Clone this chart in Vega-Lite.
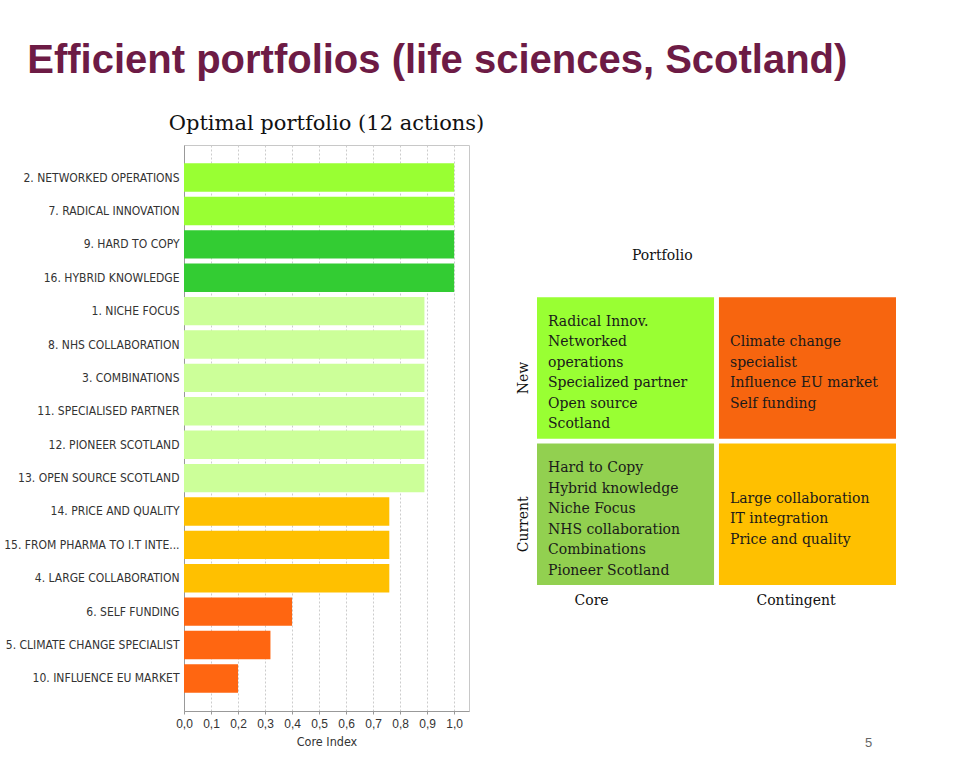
{
  "$schema": "https://vega.github.io/schema/vega-lite/v6.json",
  "background": "white",
  "padding": {"left": 3, "top": 40, "right": 5, "bottom": 5},
  "title": {
    "text": "Efficient portfolios (life sciences, Scotland)",
    "anchor": "start",
    "frame": "bounds",
    "font": "Liberation Sans",
    "fontSize": 40,
    "fontWeight": "bold",
    "color": "#6d1b45",
    "dx": 24,
    "offset": 0,
    "baseline": "alphabetic"
  },
  "spacing": 31,
  "resolve": {"scale": {"color": "independent"}},
  "hconcat": [
    {
      "width": 285,
      "height": 566,
      "title": {
        "text": "Optimal portfolio (12 actions)",
        "font": "DejaVu Serif",
        "fontSize": 21,
        "fontWeight": "normal",
        "color": "#111111",
        "offset": -6,
        "baseline": "alphabetic"
      },
      "data": {
        "values": [
          {"action": "2. NETWORKED OPERATIONS", "core_index": 1.0, "tier": "full-new"},
          {"action": "7. RADICAL INNOVATION", "core_index": 1.0, "tier": "full-new"},
          {"action": "9. HARD TO COPY", "core_index": 1.0, "tier": "full-current"},
          {"action": "16. HYBRID KNOWLEDGE", "core_index": 1.0, "tier": "full-current"},
          {"action": "1. NICHE FOCUS", "core_index": 0.89, "tier": "high"},
          {"action": "8. NHS COLLABORATION", "core_index": 0.89, "tier": "high"},
          {"action": "3. COMBINATIONS", "core_index": 0.89, "tier": "high"},
          {"action": "11. SPECIALISED PARTNER", "core_index": 0.89, "tier": "high"},
          {"action": "12. PIONEER SCOTLAND", "core_index": 0.89, "tier": "high"},
          {"action": "13. OPEN SOURCE SCOTLAND", "core_index": 0.89, "tier": "high"},
          {"action": "14. PRICE AND QUALITY", "core_index": 0.76, "tier": "medium"},
          {"action": "15. FROM PHARMA TO I.T INTE...", "core_index": 0.76, "tier": "medium"},
          {"action": "4. LARGE COLLABORATION", "core_index": 0.76, "tier": "medium"},
          {"action": "6. SELF FUNDING", "core_index": 0.4, "tier": "low"},
          {"action": "5. CLIMATE CHANGE SPECIALIST", "core_index": 0.32, "tier": "low"},
          {"action": "10. INFLUENCE EU MARKET", "core_index": 0.2, "tier": "low"}
        ]
      },
      "view": {"stroke": "#c8c8c8"},
      "mark": {"type": "bar"},
      "encoding": {
        "y": {
          "field": "action",
          "type": "nominal",
          "sort": null,
          "scale": {"paddingInner": 0.15, "paddingOuter": 0.55},
          "axis": {
            "title": null,
            "labelFont": "DejaVu Sans Condensed, DejaVu Sans",
            "labelFontSize": 12,
            "labelColor": "#333333",
            "ticks": false,
            "labelPadding": 5,
            "domainColor": "#999999",
            "labelLimit": 300
          }
        },
        "x": {
          "field": "core_index",
          "type": "quantitative",
          "scale": {"domain": [0, 1.055], "nice": false},
          "axis": {
            "title": "Core Index",
            "values": [0, 0.1, 0.2, 0.3, 0.4, 0.5, 0.6, 0.7, 0.8, 0.9, 1.0],
            "labelExpr": "replace(format(datum.value, '.1f'), '.', ',')",
            "labelFlush": false,
            "grid": true,
            "gridDash": [2, 2],
            "gridColor": "#cccccc",
            "domainColor": "#999999",
            "tickColor": "#999999",
            "tickSize": 3,
            "labelPadding": 4,
            "labelFont": "Liberation Sans Narrow, Liberation Sans",
            "labelFontSize": 12,
            "labelColor": "#333333",
            "labelOverlap": false,
            "titleFont": "DejaVu Sans Condensed, DejaVu Sans",
            "titleFontSize": 12.5,
            "titleFontWeight": "normal",
            "titleColor": "#333333",
            "titlePadding": 6
          }
        },
        "color": {
          "field": "tier",
          "type": "nominal",
          "scale": {
            "domain": ["full-new", "full-current", "high", "medium", "low"],
            "range": ["#99ff33", "#33cc33", "#ccff99", "#ffc000", "#ff6611"]
          },
          "legend": null
        }
      }
    },
    {
      "width": 359,
      "height": 440,
      "title": {
        "text": "Portfolio",
        "anchor": "start",
        "frame": "group",
        "dx": 95,
        "dy": 133,
        "offset": 4,
        "baseline": "alphabetic",
        "font": "DejaVu Serif",
        "fontSize": 14,
        "fontWeight": "normal",
        "color": "#111111"
      },
      "view": {"stroke": null},
      "data": {
        "values": [
          {"portfolio": "Core", "novelty": "New", "cell": "core-new", "actions": "Radical Innov.\nNetworked\noperations\nSpecialized partner\nOpen source\nScotland"},
          {"portfolio": "Contingent", "novelty": "New", "cell": "contingent-new", "actions": "Climate change\nspecialist\nInfluence EU market\nSelf funding"},
          {"portfolio": "Core", "novelty": "Current", "cell": "core-current", "actions": "Hard to Copy\nHybrid knowledge\nNiche Focus\nNHS collaboration\nCombinations\nPioneer Scotland"},
          {"portfolio": "Contingent", "novelty": "Current", "cell": "contingent-current", "actions": "Large collaboration\nIT integration\nPrice and quality"}
        ]
      },
      "layer": [
        {
          "mark": {"type": "rect"},
          "encoding": {
            "x": {
              "field": "portfolio",
              "type": "nominal",
              "sort": ["Core", "Contingent"],
              "scale": {"domain": ["Core", "Contingent"], "paddingInner": 0.027, "paddingOuter": 0},
              "axis": {
                "title": "5",
                "titleX": 331,
                "titleY": 157,
                "titleAlign": "center",
                "titleBaseline": "middle",
                "titleFont": "Liberation Sans",
                "titleFontSize": 13,
                "titleFontWeight": "normal",
                "titleColor": "#666666",
                "labelAngle": 0,
                "labelAlign": "left",
                "labelOffset": -51,
                "labelPadding": 8,
                "labelBaseline": "top",
                "labelFont": "DejaVu Serif",
                "labelFontSize": 14,
                "labelColor": "#111111",
                "domain": false,
                "ticks": false
              }
            },
            "y": {
              "field": "novelty",
              "type": "nominal",
              "sort": ["New", "Current"],
              "scale": {"domain": ["New", "Current"], "paddingInner": 0.034, "paddingOuter": 0.52, "align": 1},
              "axis": {
                "title": null,
                "labelAngle": 270,
                "labelAlign": "center",
                "labelBaseline": "alphabetic",
                "labelPadding": 10,
                "labelOffset": 10,
                "labelFont": "DejaVu Serif",
                "labelFontSize": 14,
                "labelColor": "#111111",
                "domain": false,
                "ticks": false
              }
            },
            "color": {
              "field": "cell",
              "type": "nominal",
              "scale": {
                "domain": ["core-new", "contingent-new", "core-current", "contingent-current"],
                "range": ["#99ff33", "#f7650f", "#92d050", "#ffc000"]
              },
              "legend": null
            }
          }
        },
        {
          "mark": {
            "type": "text",
            "align": "left",
            "baseline": "middle",
            "dx": 11,
            "dy": {"expr": "5 - (length(split(datum.actions, '\\n')) - 1) * 10.25"},
            "lineBreak": "\n",
            "lineHeight": 20.5,
            "font": "DejaVu Serif",
            "fontSize": 14,
            "color": "#1a1a1a"
          },
          "encoding": {
            "x": {"field": "portfolio", "type": "nominal", "bandPosition": 0},
            "y": {"field": "novelty", "type": "nominal"},
            "text": {"field": "actions"}
          }
        }
      ]
    }
  ]
}
